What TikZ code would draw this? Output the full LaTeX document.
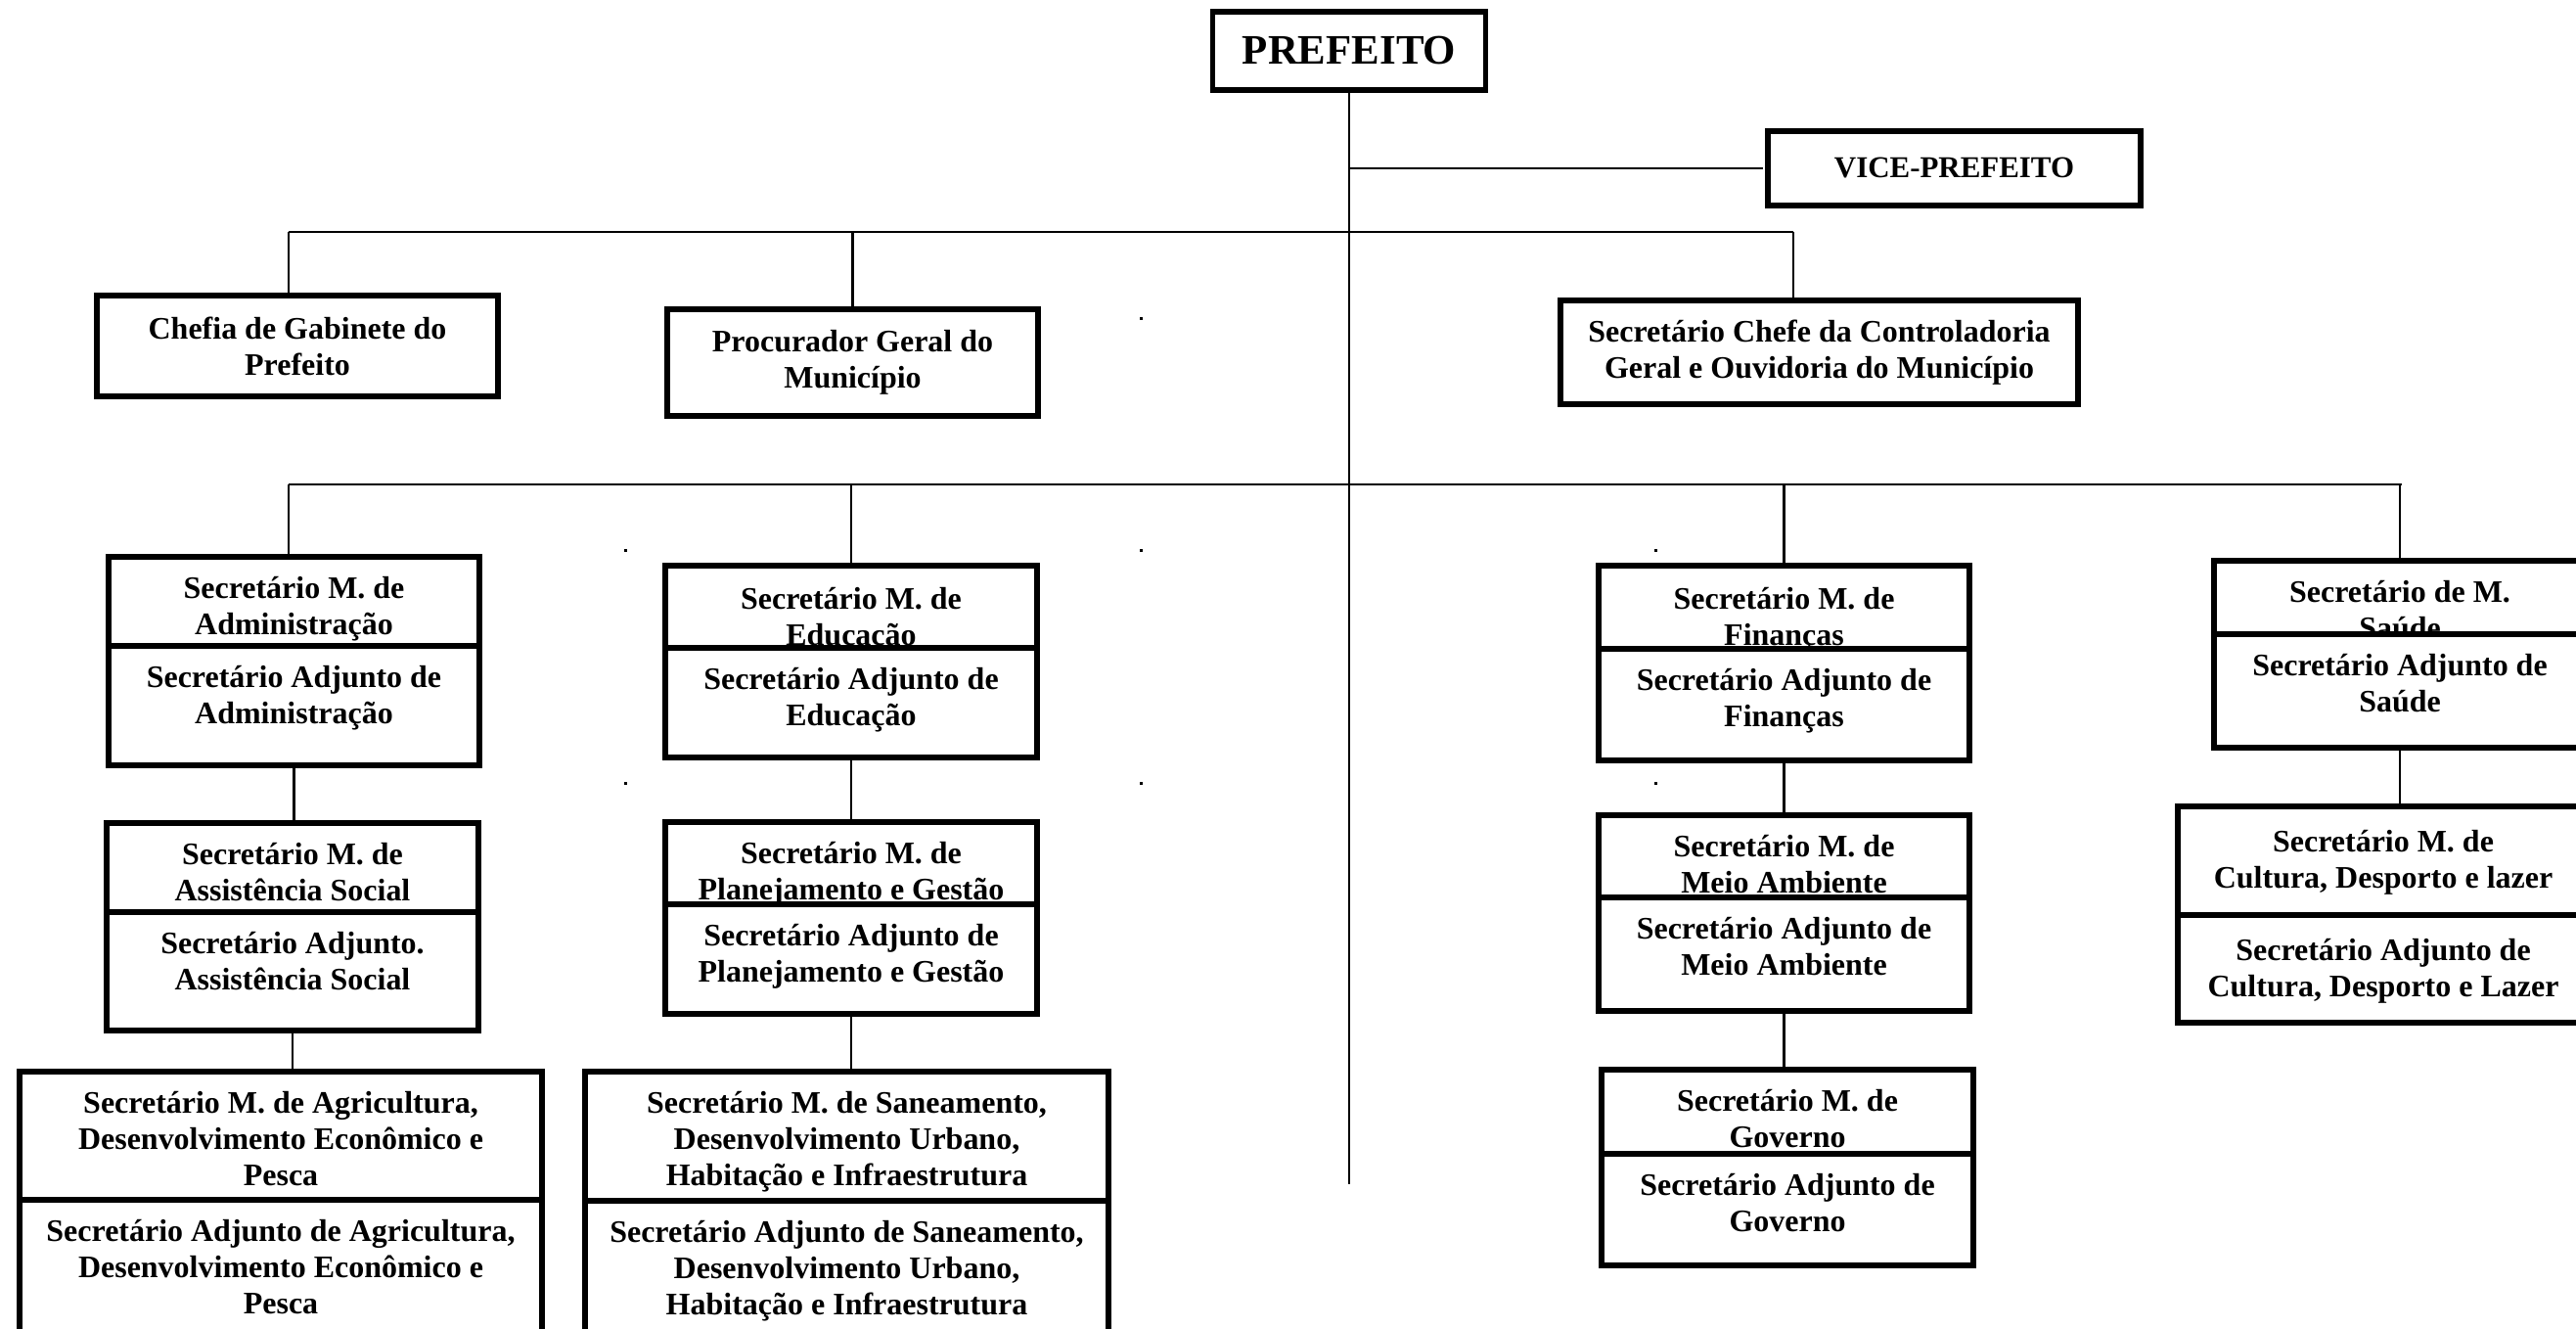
\documentclass[tikz,border=0pt]{standalone}
\usepackage{fontspec}
\setmainfont{Liberation Serif}
\usetikzlibrary{positioning}

\tikzset{
  box/.style={draw, line width=1.5pt, inner sep=0pt, outer sep=0pt, fill=white},
  txt/.style={align=center, inner sep=0pt, font=\bfseries\fontsize{9.1}{10.5}\selectfont},
  link/.style={line width=0.6pt},
}

\begin{document}
\begin{tikzpicture}[y=-1cm]
\path[use as bounding box] (0,0) rectangle (26.33,13.58);
\clip (0,0) rectangle (26.33,13.58);

% topo
\node[box, txt, minimum width=2.79cm, minimum height=0.80cm, font=\bfseries\fontsize{12.2}{14}\selectfont] (pref) at (13.79,0.52) {PREFEITO};
\node[box, txt, minimum width=3.81cm, minimum height=0.76cm, font=\bfseries\fontsize{8.8}{10}\selectfont] (vice) at (19.975,1.72) {VICE-PREFEITO};

\node[box, txt, minimum width=4.10cm, minimum height=1.03cm] (chefia) at (3.04,3.535) {Chefia de Gabinete do\\Prefeito};
\node[box, txt, minimum width=3.79cm, minimum height=1.09cm] (proc) at (8.715,3.705) {Procurador Geral do\\Município};
\node[box, txt, minimum width=5.29cm, minimum height=1.06cm] (ctrl) at (18.595,3.60) {Secretário Chefe da Controladoria\\Geral e Ouvidoria do Município};

% secretarias - linha 1
\node[box, minimum width=3.79cm, minimum height=0.91cm] (adm) at (3.005,6.145) {};
\node[txt, below=0.2cm of adm.north] (admT) {Secretário M. de\\Administração};
\node[box, minimum width=3.79cm, minimum height=1.22cm, below=0pt of adm] (admA) {};
\node[txt, below=0.2cm of admA.north] (admAT) {Secretário Adjunto de\\Administração};

\node[box, minimum width=3.80cm, minimum height=0.84cm] (edu) at (8.70,6.20) {};
\node[txt, below=0.22cm of edu.north] (eduT) {Secretário M. de\\Educação};
\node[box, minimum width=3.80cm, minimum height=1.12cm, below=0pt of edu] (eduA) {};
\node[txt, below=0.2cm of eduA.north] (eduAT) {Secretário Adjunto de\\Educação};

\node[box, minimum width=3.79cm, minimum height=0.85cm] (fin) at (18.235,6.205) {};
\node[txt, below=0.22cm of fin.north] (finT) {Secretário M. de\\Finanças};
\node[box, minimum width=3.79cm, minimum height=1.14cm, below=0pt of fin] (finA) {};
\node[txt, below=0.2cm of finA.north] (finAT) {Secretário Adjunto de\\Finanças};

\node[box, minimum width=3.80cm, minimum height=0.75cm] (sau) at (24.53,6.105) {};
\node[txt, below=0.2cm of sau.north] (sauT) {Secretário de M.\\Saúde};
\node[box, minimum width=3.80cm, minimum height=1.16cm, below=0pt of sau] (sauA) {};
\node[txt, below=0.2cm of sauA.north] (sauAT) {Secretário Adjunto de\\Saúde};

% secretarias - linha 2
\node[box, minimum width=3.80cm, minimum height=0.91cm] (ass) at (2.99,8.865) {};
\node[txt, below=0.2cm of ass.north] (assT) {Secretário M. de\\Assistência Social};
\node[box, minimum width=3.80cm, minimum height=1.21cm, below=0pt of ass] (assA) {};
\node[txt, below=0.2cm of assA.north] (assAT) {Secretário Adjunto.\\Assistência Social};

\node[box, minimum width=3.80cm, minimum height=0.84cm] (pla) at (8.70,8.82) {};
\node[txt, below=0.2cm of pla.north] (plaT) {Secretário M. de\\Planejamento e Gestão};
\node[box, minimum width=3.80cm, minimum height=1.12cm, below=0pt of pla] (plaA) {};
\node[txt, below=0.2cm of plaA.north] (plaAT) {Secretário Adjunto de\\Planejamento e Gestão};

\node[box, minimum width=3.79cm, minimum height=0.84cm] (mei) at (18.235,8.75) {};
\node[txt, below=0.2cm of mei.north] (meiT) {Secretário M. de\\Meio Ambiente};
\node[box, minimum width=3.79cm, minimum height=1.16cm, below=0pt of mei] (meiA) {};
\node[txt, below=0.2cm of meiA.north] (meiAT) {Secretário Adjunto de\\Meio Ambiente};

\node[box, minimum width=4.20cm, minimum height=1.11cm] (cul) at (24.36,8.795) {};
\node[txt, below=0.24cm of cul.north] (culT) {Secretário M. de\\Cultura, Desporto e lazer};
\node[box, minimum width=4.20cm, minimum height=1.10cm, below=0pt of cul] (culA) {};
\node[txt, below=0.24cm of culA.north] (culAT) {Secretário Adjunto de\\Cultura, Desporto e Lazer};

% secretarias - linha 3
\node[box, minimum width=5.34cm, minimum height=1.31cm] (agr) at (2.87,11.605) {};
\node[txt, below=0.2cm of agr.north] (agrT) {Secretário M. de Agricultura,\\Desenvolvimento Econômico e\\Pesca};
\node[box, minimum width=5.34cm, minimum height=1.40cm, below=0pt of agr] (agrA) {};
\node[txt, below=0.2cm of agrA.north] (agrAT) {Secretário Adjunto de Agricultura,\\Desenvolvimento Econômico e\\Pesca};

\node[box, minimum width=5.35cm, minimum height=1.32cm] (san) at (8.655,11.61) {};
\node[txt, below=0.2cm of san.north] (sanT) {Secretário M. de Saneamento,\\Desenvolvimento Urbano,\\Habitação e Infraestrutura};
\node[box, minimum width=5.35cm, minimum height=1.40cm, below=0pt of san] (sanA) {};
\node[txt, below=0.2cm of sanA.north] (sanAT) {Secretário Adjunto de Saneamento,\\Desenvolvimento Urbano,\\Habitação e Infraestrutura};

\node[box, minimum width=3.80cm, minimum height=0.86cm] (gov) at (18.27,11.36) {};
\node[txt, below=0.2cm of gov.north] (govT) {Secretário M. de\\Governo};
\node[box, minimum width=3.80cm, minimum height=1.14cm, below=0pt of gov] (govA) {};
\node[txt, below=0.2cm of govA.north] (govAT) {Secretário Adjunto de\\Governo};

% ligacoes
\coordinate (mainEnd) at (13.79,12.10);
\coordinate (barA) at (2.95,2.37);
\coordinate (barB) at (18.33,2.37);
\coordinate (barC) at (2.95,4.95);
\coordinate (barD) at (24.55,4.95);

\draw[link] (pref) -- (mainEnd);
\draw[link] (pref.south |- vice.west) -- ([xshift=-1.5pt]vice.west);
\draw[link] (barA) -- (barB);
\draw[link] (barA) -- (barA |- chefia.north);
\draw[link] (proc.north |- barA) -- (proc.north);
\draw[link] (barB) -- (barB |- ctrl.north);

\draw[link] (barC) -- (barD);
\draw[link] (barC) -- (barC |- adm.north);
\draw[link] (edu.north |- barC) -- (edu.north);
\draw[link] (fin.north |- barC) -- (fin.north);
\draw[link] (sau.north |- barC) -- (sau.north);

\draw[link] (admA.south) -- (admA.south |- ass.north);
\draw[link] (assA.south) -- (assA.south |- agr.north);
\draw[link] (eduA.south) -- (eduA.south |- pla.north);
\draw[link] (plaA.south) -- (plaA.south |- san.north);
\draw[link] (finA.south) -- (finA.south |- mei.north);
\draw[link] (meiA.south) -- (meiA.south |- gov.north);
\draw[link] (sauA.south) -- (sauA.south |- cul.north);

% pontos soltos
\foreach \x/\y in {6.38/5.61, 11.65/3.24, 11.65/5.61, 6.38/7.99, 11.65/7.99, 16.91/5.61, 16.91/7.99}
  \fill (\x,\y) rectangle ++(0.03,0.03);
\end{tikzpicture}
\end{document}
